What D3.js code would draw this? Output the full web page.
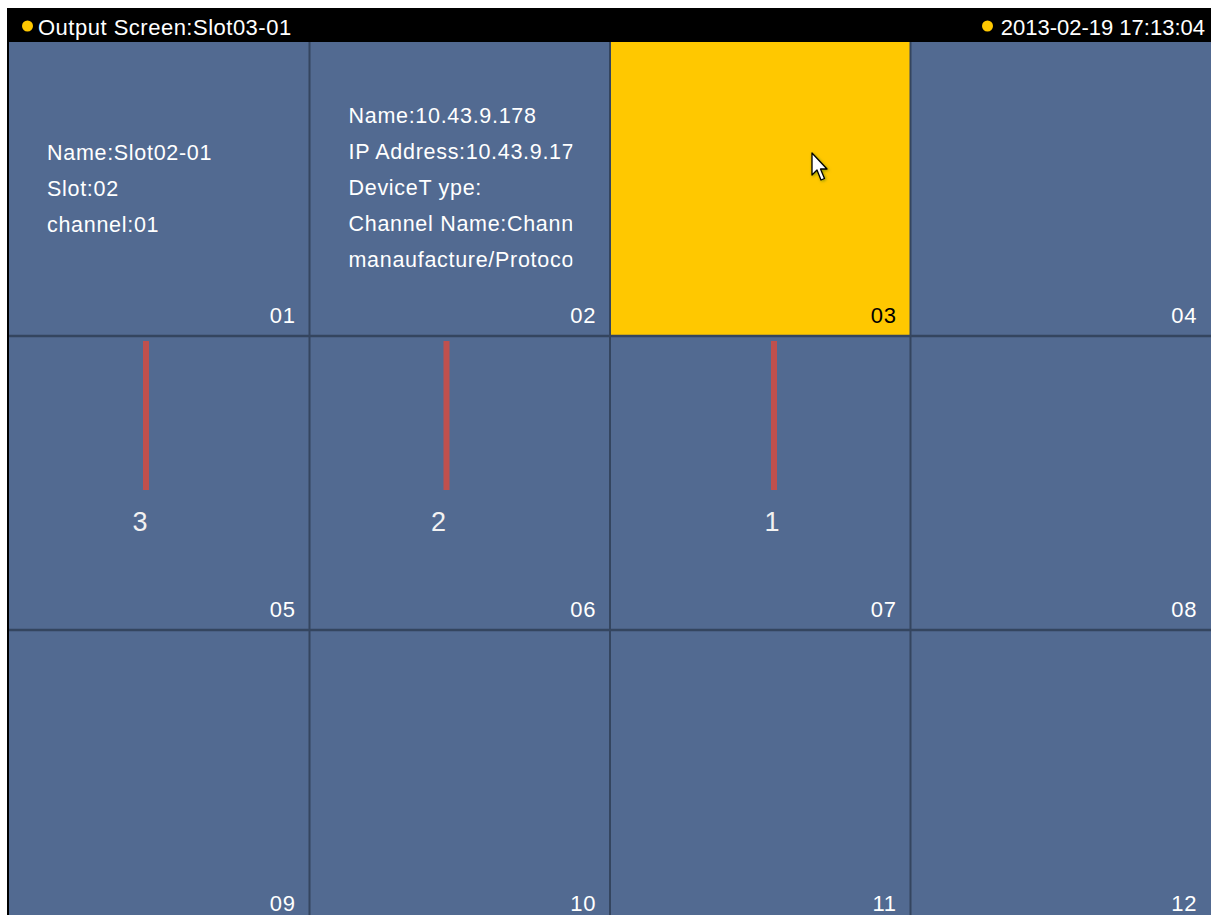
<!DOCTYPE html>
<html>
<head>
<meta charset="utf-8">
<script src="https://cdn.jsdelivr.net/npm/d3@7/dist/d3.min.js"></script>
<style>
  html, body { margin: 0; padding: 0; background: #ffffff; }
  svg { display: block; font-family: "Liberation Sans", Arial, sans-serif; }
</style>
</head>
<body>
<svg id="chart" width="1211" height="915"></svg>
<script>
// ---- data ----
const headerTitle = "Output Screen:Slot03-01";
const headerTime = "2013-02-19 17:13:04";
const cellLabels = ["01","02","03","04","05","06","07","08","09","10","11","12"];
const selectedCell = "03";
const infoCells = ["01", "02"];
const infoLines = [
  ["Name:Slot02-01", "Slot:02", "channel:01"],
  ["Name:10.43.9.178", "IP Address:10.43.9.178", "DeviceT ype:", "Channel Name:Channel01", "manaufacture/Protocol"]
];
const barCells = ["05", "06", "07"];
const barLabels = ["3", "2", "1"];
const barValues = [1, 1, 1];

// ---- layout ----
const W = 1211, H = 915;
const gridLeft = 9, gridTop = 42, gridRight = 1211, rowH = 294;
const nCols = 4, nRows = 3;
const barOffsets = [137, 137, 164];   // bar centre offset inside its cell
const labelShift = [-6, -8, -2];      // label offset from bar centre
const infoTop = [160, 123];           // first baseline of info text
const infoLeft = [38, 39];

const svg = d3.select("#chart");

const x = d3.scaleBand().domain(d3.range(nCols)).range([gridLeft, gridRight]).paddingInner(0);
const y = d3.scaleBand().domain(d3.range(nRows)).range([gridTop, gridTop + rowH * nRows]).paddingInner(0);
const cellX = i => x(i % nCols);
const cellY = i => y(Math.floor(i / nCols));
const cw = x.bandwidth(), ch = y.bandwidth();

// black frame / header
svg.append("rect").attr("x", 7).attr("y", 8).attr("width", W - 7).attr("height", H - 8).attr("fill", "#000");

// cells
const cells = svg.append("g").selectAll("g.cell")
  .data(cellLabels).join("g").attr("class", "cell");

cells.append("rect")
  .attr("x", (d, i) => cellX(i))
  .attr("y", (d, i) => cellY(i))
  .attr("width", cw).attr("height", ch)
  .attr("fill", d => d === selectedCell ? "#ffc800" : "#526a91");

// grid lines
const lineCol = "#34455f";
const gl = svg.append("g");
gl.selectAll("line.v").data(d3.range(1, nCols)).join("line")
  .attr("x1", d => x(d)).attr("x2", d => x(d))
  .attr("y1", gridTop).attr("y2", H)
  .attr("stroke", lineCol).attr("stroke-width", 2);
gl.selectAll("line.h").data(d3.range(1, nRows)).join("line")
  .attr("y1", d => y(d)).attr("y2", d => y(d))
  .attr("x1", gridLeft).attr("x2", gridRight)
  .attr("stroke", lineCol).attr("stroke-width", 2.5);

// cell number labels
cells.append("text")
  .attr("x", (d, i) => cellX(i) + cw - 14)
  .attr("y", (d, i) => cellY(i) + ch - 13)
  .attr("text-anchor", "end")
  .attr("font-size", 22)
  .attr("letter-spacing", 0.6)
  .attr("fill", d => d === selectedCell ? "#000" : "#fff")
  .text(d => d);

// info text
const defs = svg.append("defs");
infoCells.forEach((c, k) => {
  const i = cellLabels.indexOf(c);
  defs.append("clipPath").attr("id", "clip" + k)
    .append("rect").attr("x", cellX(i)).attr("y", cellY(i)).attr("width", 263).attr("height", ch);
  svg.append("g").attr("clip-path", `url(#clip${k})`)
    .selectAll("text").data(infoLines[k]).join("text")
    .attr("x", cellX(i) + infoLeft[k])
    .attr("y", (d, j) => infoTop[k] + j * 36)
    .attr("font-size", 21.5)
    .attr("letter-spacing", 0.7)
    .attr("fill", "#fff")
    .text(d => d);
});

// red level bars
const level = d3.scaleLinear().domain([0, 1]).range([0, 149]);
barCells.forEach((c, k) => {
  const i = cellLabels.indexOf(c);
  const cx = cellX(i) + barOffsets[k];
  const base = cellY(i) + 154;
  svg.append("rect")
    .attr("x", cx - 3).attr("width", 6)
    .attr("y", base - level(barValues[k])).attr("height", level(barValues[k]))
    .attr("fill", "#c0504d");
  svg.append("text")
    .attr("x", cx + labelShift[k]).attr("y", base + 41)
    .attr("text-anchor", "middle")
    .attr("font-size", 27)
    .attr("fill", "#f2f2f2")
    .text(barLabels[k]);
});

// header texts
svg.append("circle").attr("cx", 27.5).attr("cy", 26).attr("r", 5.5).attr("fill", "#ffc800");
svg.append("text").attr("x", 38).attr("y", 35).attr("font-size", 22).attr("letter-spacing", 0.5).attr("fill", "#fff").text(headerTitle);
svg.append("circle").attr("cx", 987.5).attr("cy", 26).attr("r", 5.5).attr("fill", "#ffc800");
svg.append("text").attr("x", 1205).attr("y", 35).attr("text-anchor", "end").attr("font-size", 22).attr("fill", "#fff").text(headerTime);

// mouse cursor
const cursor = svg.append("g").attr("transform", "translate(812,153)");
cursor.append("path")
  .attr("d", "M0,0 L0,22 L5,17 L9,27 L12.5,25.5 L8.5,16 L15,16 Z")
  .attr("fill", "#fff").attr("stroke", "#000").attr("stroke-width", 1.3)
  .attr("stroke-linejoin", "round")
  .style("filter", "drop-shadow(1px 1px 1.5px rgba(120,140,0,0.8))");
</script>
</body>
</html>
